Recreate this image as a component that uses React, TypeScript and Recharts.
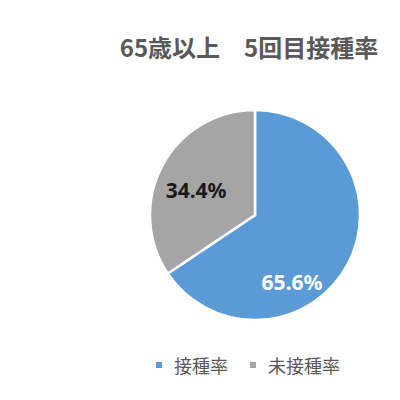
import { PieChart, Pie, Cell, Legend } from 'recharts'

const categories = ['接種率', '未接種率']
const values = [65.6, 34.4]
const colors = ['#5B9BD5', '#A5A5A5']
const labelColors = ['#ffffff', '#1a1a1a']
const title = '65歳以上　5回目接種率'

const data = categories.map((name, i) => ({ name, value: values[i] }))

const RAD = Math.PI / 180

function renderLabel(props: any) {
  const { cx, cy, midAngle, outerRadius, index, value } = props
  // Excel-like placement: the big slice label sits lower than its mid angle
  const angle = index === 0 ? midAngle - 33 : midAngle + 5
  const r = outerRadius * (index === 0 ? 0.73 : 0.61)
  const x = cx + r * Math.cos(-angle * RAD)
  const y = cy + r * Math.sin(-angle * RAD)
  return (
    <text
      x={x}
      y={y}
      fill={labelColors[index]}
      textAnchor="middle"
      dominantBaseline="central"
      fontSize={21}
      fontWeight="bold"
      fontFamily="'Noto Sans', sans-serif"
    >
      {value.toFixed(1)}%
    </text>
  )
}

function LegendContent() {
  return (
    <div style={{ display: 'flex', justifyContent: 'center', gap: 22, fontFamily: "'Noto Sans CJK JP', sans-serif", fontSize: 18, color: '#595959' }}>
      {categories.map((c, i) => (
        <span key={c} style={{ display: 'flex', alignItems: 'center' }}>
          <span style={{ display: 'inline-block', width: 6, height: 6, background: colors[i], marginRight: 12 }} />
          {c}
        </span>
      ))}
    </div>
  )
}

export default function App() {
  return (
    <div style={{ position: 'absolute', top: 0, left: 0, width: 400, height: 400, background: '#fff' }}>
      <PieChart width={400} height={400} margin={{ top: 0, right: 0, bottom: 0, left: 0 }}>
        <text
          x={249}
          y={46}
          textAnchor="middle"
          dominantBaseline="central"
          fontSize={24}
          fontWeight="bold"
          fill="#595959"
          fontFamily="'Noto Sans CJK JP', sans-serif"
        >
          {title}
        </text>
        <Pie
          data={data}
          dataKey="value"
          nameKey="name"
          cx={255}
          cy={215}
          outerRadius={105}
          startAngle={90}
          endAngle={-270}
          stroke="#ffffff"
          strokeWidth={2.5}
          label={renderLabel}
          labelLine={false}
          isAnimationActive={false}
        >
          {data.map((d, i) => (
            <Cell key={d.name} fill={colors[i]} />
          ))}
        </Pie>
        <Legend
          content={<LegendContent />}
          wrapperStyle={{ position: 'absolute', top: 352, left: 130, width: 236 }}
        />
      </PieChart>
    </div>
  )
}
